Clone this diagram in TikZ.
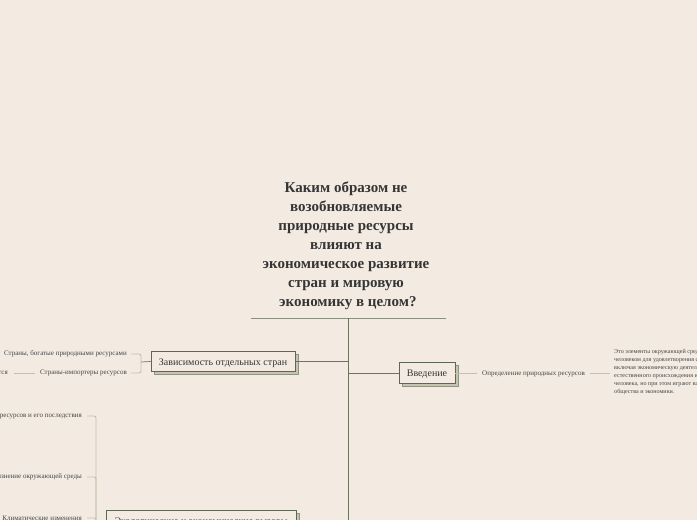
\documentclass[tikz,border=0pt]{standalone}
\usepackage{fontspec}
\setmainfont{Liberation Serif}
\usetikzlibrary{shadows}
\definecolor{bg}{HTML}{F3EBE2}
\definecolor{trunkc}{HTML}{6D735C}
\definecolor{boxc}{HTML}{5F6651}
\definecolor{shadc}{HTML}{C6C3B0}
\definecolor{brc}{HTML}{C4C0AC}
\definecolor{titlec}{HTML}{353535}
\definecolor{txtc}{HTML}{454545}
\tikzset{
  trunk/.style={draw=trunkc, line width=0.9pt},
  bracket/.style={draw=brc, line width=0.9pt, rounded corners=2pt},
  topic/.style={draw=boxc, line width=0.8pt, fill=bg, inner sep=0pt, minimum height=20pt,
     font=\fontsize{10}{12}\selectfont, text=titlec, text height=7pt, text depth=0pt,
     copy shadow={shadow xshift=3pt, shadow yshift=-3pt, fill=shadc, draw=boxc!70, line width=0.6pt}},
  small/.style={inner sep=0pt, font=\fontsize{7}{8}\selectfont, text=txtc},
}
\begin{document}
\begin{tikzpicture}[x=1pt,y=-1pt]
\fill[bg] (0,0) rectangle (697,520);
\useasboundingbox (0,0) rectangle (697,520);
% title
\node[align=center, text=titlec, font=\bfseries\fontsize{15}{19}\selectfont, inner sep=0pt] (title) at (346,246)
 {Каким образом не\\возобновляемые\\природные ресурсы\\влияют на\\экономическое развитие\\стран и мировую\\\ экономику в целом?};
\coordinate (tl) at (251,318);
\coordinate (tr) at (446,318);
\coordinate (ttop) at (348,318);
\coordinate (tbot) at (348,545);
\draw[trunk, draw=trunkc!80] (tl) -- (tr);
\draw[trunk] (ttop) -- (tbot);
% Зависимость
\node[topic, minimum width=144pt] (zav) at (223,361.5) {Зависимость отдельных стран};
\draw[trunk] (zav.east) -- (zav.east -| ttop);
\coordinate (zb) at (141,362);
\draw[trunk, line width=0.7pt] (zav.west) -- (zb);
\node[small, anchor=east] (s1) at (127,354) {Страны, богатые природными ресурсами};
\node[small, anchor=east] (s2) at (127,373) {Страны-импортеры ресурсов};
\node[small, anchor=east] (s3) at (8,373) {Страны, экономика которых сильно зависит от импорта и цен, которые постоянно меняются};
\draw[bracket] ([xshift=4pt]s1.east) -| (zb);
\draw[bracket] ([xshift=4pt]s2.east) -| (zb);
\draw[bracket] ([xshift=6pt]s3.east) -- ([xshift=-5pt]s2.west);
% Введение
\node[topic, minimum width=56pt, minimum height=21pt] (vved) at (427,373) {Введение};
\draw[trunk] (vved.west -| ttop) -- (vved.west);
\node[small, anchor=west] (def) at (482,374) {Определение природных ресурсов};
\draw[bracket] (vved.east) -- ([xshift=-5pt]vved.east -| def.west);
\node[small, anchor=west, align=left, font=\fontsize{6.1}{8}\selectfont] (par) at (614,372)
 {Это элементы окружающей среды, которые используются\\
  человеком для удовлетворения своих потребностей,\\
  включая экономическую деятельность. Они имеют\\
  естественного происхождения и не созданы трудом\\
  человека, но при этом играют важную роль в развитии\\
  общества и экономики.};
\draw[bracket] ([xshift=5pt]vved.east -| def.east) -- ([xshift=-4pt]vved.east -| par.west);
% Экологические
\node[topic, minimum width=190pt, minimum height=21pt] (eco) at (201,520.5) {Экологические и экономические вызовы};
\draw[trunk] (eco.east) -- (eco.east -| ttop);
\coordinate (eb) at (96,521);
\draw[bracket] (eco.west) -- (eb);
\node[small, anchor=east] (e1) at (82,416) {Истощение природных ресурсов и его последствия};
\node[small, anchor=east] (e2) at (82,477) {Загрязнение окружающей среды};
\node[small, anchor=east] (e3) at (82,518) {Климатические изменения};
\draw[bracket] ([xshift=5pt]e1.east) -| (eb);
\draw[bracket] ([xshift=5pt]e2.east) -| (eb);
\draw[bracket] ([xshift=5pt]e3.east) -| (eb);
\end{tikzpicture}
\end{document}
